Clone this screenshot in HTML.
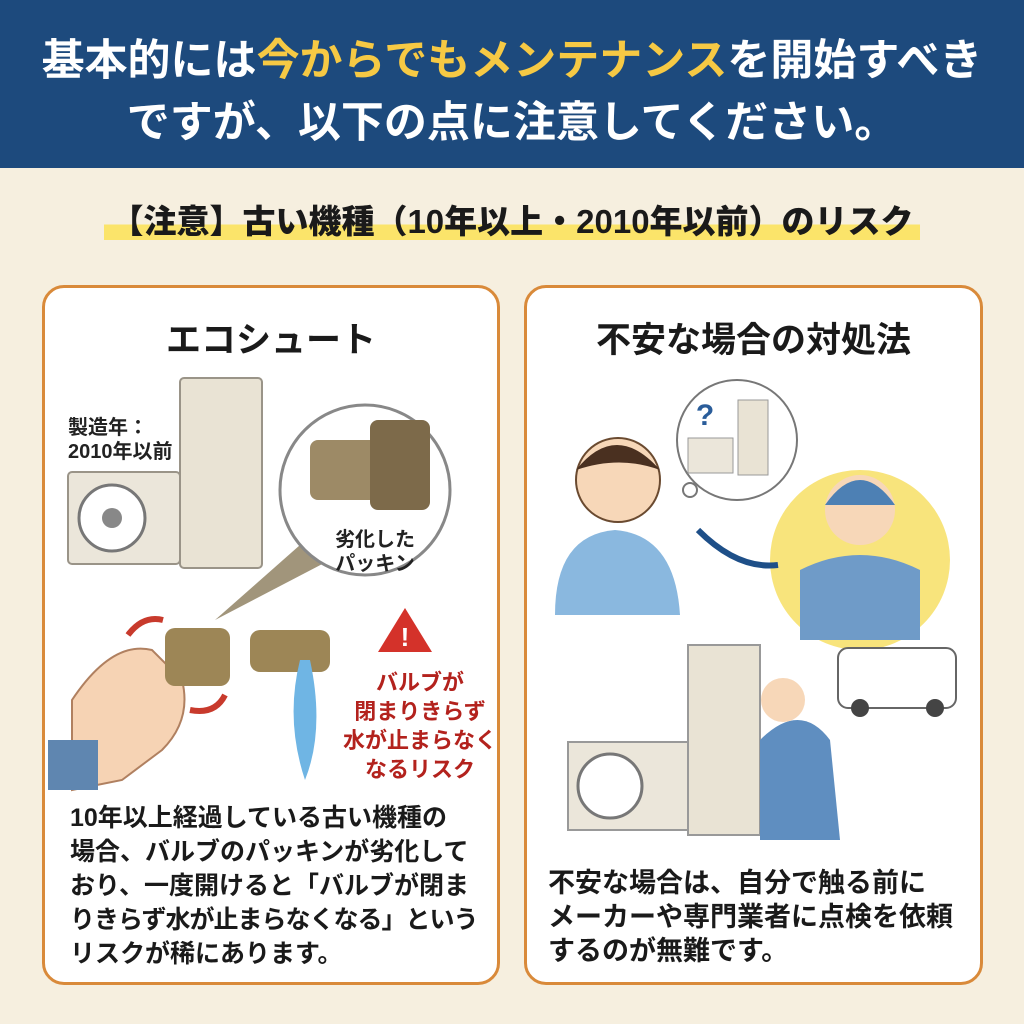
<!DOCTYPE html>
<html><head><meta charset="utf-8"><style>
*{margin:0;padding:0;box-sizing:border-box}
body{width:1024px;height:1024px;overflow:hidden;background:#f6efdf;font-family:"Liberation Sans","Noto Sans CJK JP",sans-serif;position:relative}
.hdr{position:absolute;left:0;top:0;width:1024px;height:168px;background:#1d4a7d;color:#fff;font-weight:bold;font-size:43px;text-align:center;line-height:62px;padding-top:30px;white-space:nowrap}
.hdr span{color:#f6c944}
.sub{position:absolute;left:0;top:195px;width:1024px;text-align:center;font-weight:bold;font-size:33px;color:#1a1a1a;white-space:nowrap}
.sub b{background:linear-gradient(transparent 58%,#fbe46a 58%);padding:0 6px}
.panel{position:absolute;top:285px;height:700px;background:#fff;border:3px solid #d98a3a;border-radius:22px}
.ttl{position:absolute;top:312px;font-weight:bold;font-size:35px;color:#1a1a1a;text-align:center}
.txt{position:absolute;font-weight:bold;font-size:25px;line-height:34px;color:#1a1a1a;white-space:nowrap}
.t{position:absolute;font-weight:bold;color:#222}
</style></head><body>
<div class="hdr">基本的には<span>今からでもメンテナンス</span>を開始すべき<br>ですが、以下の点に注意してください。</div>
<div class="sub"><b>【注意】古い機種（10年以上・2010年以前）のリスク</b></div>
<div class="panel" style="left:42px;width:458px"></div>
<div class="panel" style="left:524px;width:459px"></div>
<div class="ttl" style="left:42px;width:458px">エコシュート</div>
<div class="ttl" style="left:524px;width:459px">不安な場合の対処法</div>
<svg width="1024" height="1024" style="position:absolute;left:0;top:0">
<rect x="180" y="378" width="82" height="190" rx="4" fill="#e9e3d4" stroke="#9a9488" stroke-width="2"/>
<rect x="68" y="472" width="112" height="92" rx="4" fill="#ebe6da" stroke="#9a9488" stroke-width="2"/>
<circle cx="112" cy="518" r="33" fill="#fff" stroke="#777" stroke-width="3"/>
<circle cx="112" cy="518" r="10" fill="#888"/>
<polygon points="215,620 300,545 330,560" fill="#8a7a5a" opacity="0.8"/>
<circle cx="365" cy="490" r="85" fill="#fff" stroke="#888" stroke-width="3"/>
<rect x="310" y="440" width="80" height="60" rx="8" fill="#9d8a66"/>
<rect x="370" y="420" width="60" height="90" rx="8" fill="#7d6a4a"/>
<path d="M72 700 q40 -60 80 -50 l30 30 q10 40 -20 70 l-40 30 l-50 10 z" fill="#f6d3b4" stroke="#b08060" stroke-width="2"/>
<rect x="48" y="740" width="50" height="50" fill="#5f86b0"/>
<rect x="165" y="628" width="65" height="58" rx="10" fill="#9d8656"/>
<rect x="250" y="630" width="80" height="42" rx="10" fill="#9d8656"/>
<path d="M300 660 q-15 60 5 120 q20 -50 5 -120z" fill="#6fb5e4"/>
<path d="M128 635 q15 -20 35 -15" stroke="#c83a2c" stroke-width="6" fill="none"/>
<path d="M190 710 q25 5 35 -15" stroke="#c83a2c" stroke-width="6" fill="none"/>
<polygon points="405,608 432,652 378,652" fill="#d4322a"/>
<text x="405" y="646" font-size="26" font-weight="bold" fill="#fff" text-anchor="middle">!</text>
<circle cx="860" cy="560" r="90" fill="#f8e47c"/>
<circle cx="737" cy="440" r="60" fill="#fff" stroke="#777" stroke-width="2"/>
<circle cx="690" cy="490" r="7" fill="#fff" stroke="#777" stroke-width="2"/>
<rect x="738" y="400" width="30" height="75" fill="#e9e3d4" stroke="#999"/>
<rect x="688" y="438" width="45" height="35" fill="#ebe6da" stroke="#999"/>
<text x="705" y="425" font-size="30" font-weight="bold" fill="#2a5d9a" text-anchor="middle">?</text>
<path d="M555 615 q0 -80 60 -85 q60 5 65 85z" fill="#8ab8df"/>
<circle cx="618" cy="480" r="42" fill="#f7d7b8" stroke="#6a4a30" stroke-width="2"/>
<path d="M576 470 q40 -50 84 0 q-40 -15 -84 0z" fill="#4a3020"/>
<path d="M698 530 q40 40 80 35" stroke="#1e4f88" stroke-width="6" fill="none"/>
<path d="M800 640 l0 -70 q60 -30 120 0 l0 70z" fill="#6f9bc8"/>
<circle cx="860" cy="510" r="35" fill="#f7d7b8"/>
<path d="M825 505 q35 -50 70 0z" fill="#4d80b4"/>
<rect x="688" y="645" width="72" height="190" fill="#e9e3d4" stroke="#999" stroke-width="2"/>
<rect x="568" y="742" width="120" height="88" fill="#ebe6da" stroke="#999" stroke-width="2"/>
<circle cx="610" cy="786" r="32" fill="#fff" stroke="#777" stroke-width="3"/>
<rect x="838" y="648" width="118" height="60" rx="10" fill="#fff" stroke="#666" stroke-width="2"/>
<circle cx="860" cy="708" r="9" fill="#444"/><circle cx="935" cy="708" r="9" fill="#444"/>
<path d="M760 840 l0 -100 q40 -40 70 0 l10 100z" fill="#5f8ec0"/>
<circle cx="783" cy="700" r="22" fill="#f7d7b8"/>
</svg>
<div class="t" style="left:68px;top:416px;font-size:20px;line-height:24px">製造年：<br>2010年以前</div>
<div class="t" style="left:335px;top:528px;font-size:20px;line-height:24px;text-align:center">劣化した<br>パッキン</div>
<div class="t" style="left:340px;top:668px;width:160px;font-size:22px;line-height:29px;text-align:center;color:#b3221d">バルブが<br>閉まりきらず<br>水が止まらなく<br>なるリスク</div>
<div class="txt" style="left:70px;top:801px">10年以上経過している古い機種の<br>場合、バルブのパッキンが劣化して<br>おり、一度開けると「バルブが閉ま<br><span style="letter-spacing:-1px">りきらず水が止まらなくなる」という</span><br>リスクが稀にあります。</div>
<div class="txt" style="left:548px;top:866px;font-size:27px;line-height:34px">不安な場合は、自分で触る前に<br>メーカーや専門業者に点検を依頼<br>するのが無難です。</div>
</body></html>
